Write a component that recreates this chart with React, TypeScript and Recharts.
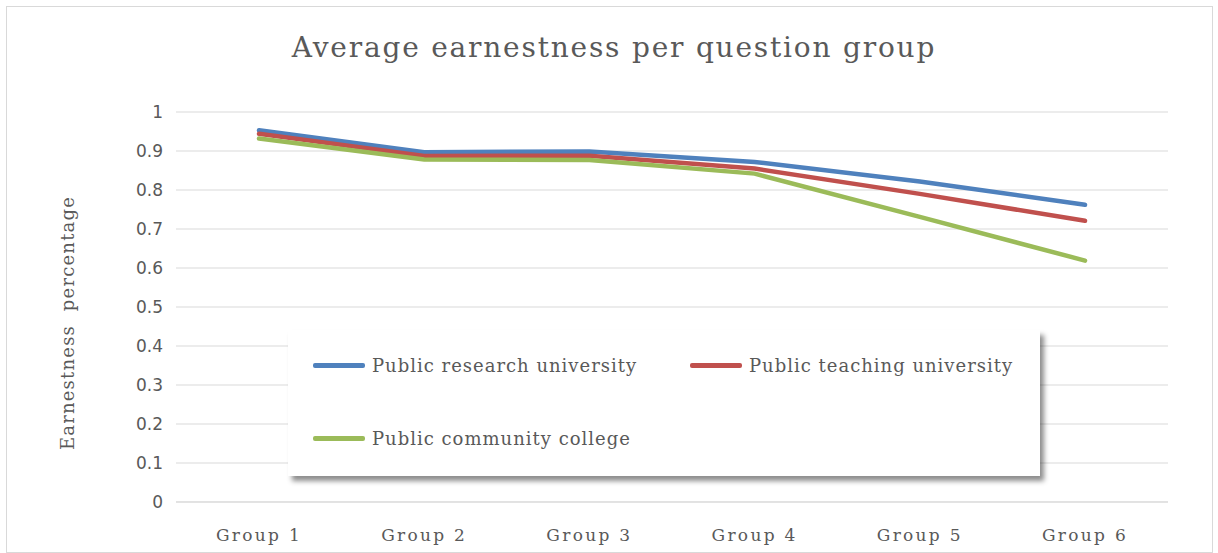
import React from 'react';
import { LineChart, Line, XAxis, YAxis, CartesianGrid, Legend } from 'recharts';

const categories = ['Group 1', 'Group 2', 'Group 3', 'Group 4', 'Group 5', 'Group 6'];
const researchValues = [0.953, 0.897, 0.899, 0.872, 0.822, 0.762];
const teachingValues = [0.944, 0.887, 0.888, 0.855, 0.79, 0.721];
const communityValues = [0.932, 0.878, 0.877, 0.842, 0.731, 0.619];
const yTicks = [0, 0.1, 0.2, 0.3, 0.4, 0.5, 0.6, 0.7, 0.8, 0.9, 1];
const seriesNames = ['Public research university', 'Public teaching university', 'Public community college'];
const seriesColors = ['#4f81bd', '#c0504d', '#9bbb59'];
const titleText = 'Average earnestness per question group';
const yAxisTitle = 'Earnestness  percentage';

const data = categories.map((g, i) => ({
  group: g,
  research: researchValues[i],
  teaching: teachingValues[i],
  community: communityValues[i],
}));

const serifFont = '"DejaVu Serif", "Liberation Serif", serif';
const sansFont = '"DejaVu Sans", "Liberation Sans", sans-serif';
const textColor = '#595959';

const renderLegend = (props: any) => {
  const raw = props.payload || [];
  const payload = [...raw].sort(
    (a: any, b: any) => seriesNames.indexOf(a.value) - seriesNames.indexOf(b.value)
  );
  return (
    <div
      style={{
        position: 'relative',
        width: 752,
        height: 146,
        background: '#ffffff',
        boxShadow: '4px 5px 5px rgba(0,0,0,0.45)',
        fontFamily: serifFont,
        fontSize: 18,
        letterSpacing: 1,
        color: textColor,
      }}
    >
      {payload.map((entry: any, i: number) => {
        const left = i === 1 ? 402 : 25;
        const centerY = i === 2 ? 108 : 35;
        return (
          <div
            key={i}
            style={{
              position: 'absolute',
              left,
              top: centerY - 13,
              height: 26,
              display: 'flex',
              alignItems: 'center',
              whiteSpace: 'nowrap',
            }}
          >
            <span
              style={{
                display: 'inline-block',
                width: 52,
                height: 5,
                borderRadius: 2,
                background: entry.color,
                marginRight: 7,
              }}
            />
            <span>{entry.value}</span>
          </div>
        );
      })}
    </div>
  );
};

export default function App() {
  return (
    <div style={{ position: 'absolute', left: 0, top: 0, width: 1218, height: 553, background: '#ffffff' }}>
      <div
        style={{
          position: 'absolute',
          left: 6,
          top: 6,
          width: 1205,
          height: 545,
          border: '1px solid #d9d9d9',
          pointerEvents: 'none',
        }}
      />
      <div
        style={{
          position: 'absolute',
          left: 5,
          top: 32,
          width: 1218,
          textAlign: 'center',
          fontFamily: serifFont,
          fontSize: 28,
          lineHeight: '32px',
          letterSpacing: 1.8,
          color: textColor,
          whiteSpace: 'nowrap',
        }}
      >
        {titleText}
      </div>
      <div
        style={{
          position: 'absolute',
          left: 68 - 150,
          top: 323 - 12,
          width: 300,
          height: 24,
          lineHeight: '24px',
          textAlign: 'center',
          transform: 'rotate(-90deg)',
          fontFamily: serifFont,
          fontSize: 18,
          letterSpacing: 1.2,
          color: textColor,
          whiteSpace: 'pre',
        }}
      >
        {yAxisTitle}
      </div>
      <LineChart
        width={1218}
        height={553}
        data={data}
        margin={{ top: 112, right: 50, left: 116, bottom: 21 }}
      >
        <CartesianGrid vertical={false} stroke="#d9d9d9" strokeWidth={1} />
        <XAxis
          dataKey="group"
          axisLine={{ stroke: '#d9d9d9' }}
          tickLine={false}
          height={30}
          tickMargin={21}
          padding={{ left: 83, right: 83 }}
          tick={{ fill: textColor, fontSize: 17, fontFamily: serifFont, letterSpacing: 2.3 }}
        />
        <YAxis
          domain={[0, 1]}
          ticks={yTicks}
          interval={0}
          axisLine={false}
          tickLine={false}
          width={60}
          tickMargin={7}
          tickFormatter={(v: number) => String(Number(v.toFixed(1)))}
          tick={{ fill: textColor, fontSize: 17, fontFamily: sansFont }}
        />
        <Legend
          layout="horizontal"
          verticalAlign="middle"
          align="center"
          content={renderLegend}
          wrapperStyle={{ left: 288, top: 330, width: 752, height: 146 }}
        />
        <Line
          type="linear"
          dataKey="research"
          name={seriesNames[0]}
          stroke={seriesColors[0]}
          strokeWidth={4.5}
          strokeLinecap="round"
          dot={false}
          activeDot={false}
          isAnimationActive={false}
        />
        <Line
          type="linear"
          dataKey="teaching"
          name={seriesNames[1]}
          stroke={seriesColors[1]}
          strokeWidth={4.5}
          strokeLinecap="round"
          dot={false}
          activeDot={false}
          isAnimationActive={false}
        />
        <Line
          type="linear"
          dataKey="community"
          name={seriesNames[2]}
          stroke={seriesColors[2]}
          strokeWidth={4.5}
          strokeLinecap="round"
          dot={false}
          activeDot={false}
          isAnimationActive={false}
        />
      </LineChart>
    </div>
  );
}
